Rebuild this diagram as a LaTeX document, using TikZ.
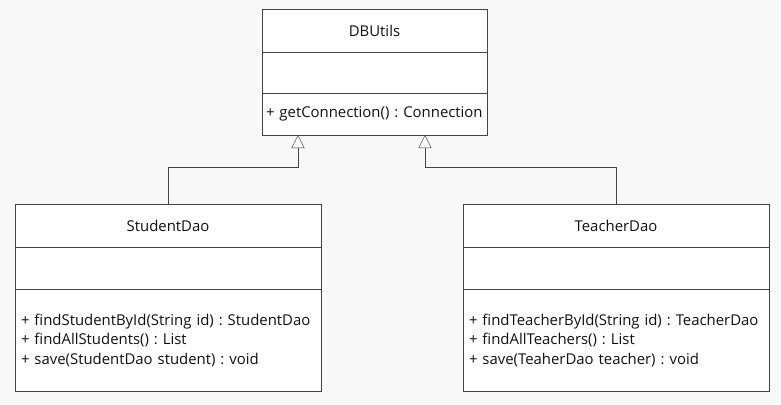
\documentclass[tikz,border=0pt]{standalone}
\usepackage{fontspec}
\setmainfont{Open Sans}
\usepackage{tikz}
\usetikzlibrary{arrows.meta, positioning, calc}
\definecolor{umlline}{HTML}{454545}
\definecolor{umltext}{HTML}{111111}
\definecolor{umlback}{HTML}{F8F8F8}
\tikzstyle{classname} = [rectangle, draw=umlline, fill=white, outer sep=0pt, minimum height=43pt, text centered, text=umltext]
\tikzstyle{classpart} = [rectangle, draw=umlline, fill=white, outer sep=0pt, inner xsep=6pt, align=left, text=umltext]
\tikzstyle{inherit} = [draw=umlline, -{Triangle[open, length=13pt, width=13pt]}]

\begin{document}
\frenchspacing
\begin{tikzpicture}[x=1pt, y=1pt, font=\fontsize{14.9}{19.5}\selectfont]
    % Background
    \fill [umlback] (0,0) rectangle (781,-404);
    \useasboundingbox (0,0) rectangle (781,-404);

    % DBUtils
    \node (dbname) [classname, minimum width=225pt] at (374.5,-30.5) {DBUtils};
    \node (dbattr) [classpart, text width=213pt, minimum height=41pt, below=0pt of dbname] {};
    \node (dbmeth) [classpart, inner xsep=4pt, text width=217pt, minimum height=42pt, below=0pt of dbattr] {+ getConnection() : Connection};

    % StudentDao
    \node (sname) [classname, minimum width=306pt] at (168,-225.5) {StudentDao};
    \node (sattr) [classpart, text width=294pt, minimum height=42pt, below=0pt of sname] {};
    \node (smeth) [classpart, text width=294pt, minimum height=102pt, below=0pt of sattr] {+ findStudentById(String id) : StudentDao\\+ findAllStudents() : List\\+ save(StudentDao student) : void};

    % TeacherDao
    \node (tname) [classname, minimum width=306pt] at (616,-225.5) {TeacherDao};
    \node (tattr) [classpart, text width=294pt, minimum height=42pt, below=0pt of tname] {};
    \node (tmeth) [classpart, text width=294pt, minimum height=102pt, below=0pt of tattr] {+ findTeacherById(String id) : TeacherDao\\+ findAllTeachers() : List\\+ save(TeaherDao teacher) : void};

    % Arrows
    \draw [inherit] (sname.north) -- ++(0,37) -| ($(dbmeth.south west)+(36,0)$);
    \draw [inherit] (tname.north) -- ++(0,37) -| ($(dbmeth.south west)+(163,0)$);
\end{tikzpicture}
\end{document}
